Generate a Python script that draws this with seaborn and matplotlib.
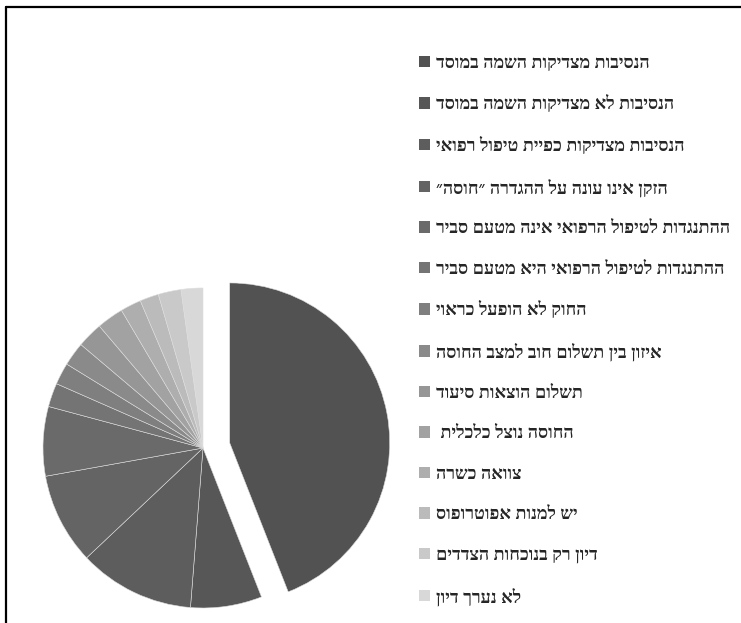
import matplotlib
matplotlib.use("Agg")
import matplotlib.pyplot as plt
from matplotlib.lines import Line2D
import seaborn as sns

# ---------------- Data ----------------
labels = [
    "הנסיבות מצדיקות השמה במוסד",
    "הנסיבות לא מצדיקות השמה במוסד",
    "הנסיבות מצדיקות כפיית טיפול רפואי",
    "הזקן אינו עונה על ההגדרה ״חוסה״",
    "ההתנגדות לטיפול הרפואי אינה מטעם סביר",
    "ההתנגדות לטיפול הרפואי היא מטעם סביר",
    "החוק לא הופעל כראוי",
    "איזון בין תשלום חוב למצב החוסה",
    "תשלום הוצאות סיעוד",
    "החוסה נוצל כלכלית ",
    "צוואה כשרה",
    "יש למנות אפוטרופוס",
    "דיון רק בנוכחות הצדדים",
    "לא נערך דיון",
]

values = [44.0, 7.2, 11.7, 9.2, 7.0, 2.4, 2.2, 2.4, 2.6, 2.7, 2.1, 1.9, 2.3, 2.2]

grays = ["#525252", "#575757", "#5d5d5d", "#646464", "#6a6a6a", "#747474",
         "#7f7f7f", "#8a8a8a", "#969696", "#a2a2a2", "#aeaeae", "#bbbbbb",
         "#c9c9c9", "#d8d8d8"]

explode = [0.17] + [0] * (len(values) - 1)

# ---------------- Setup ----------------
sns.set_style("white")
plt.rcParams["font.family"] = ["Liberation Serif", "DejaVu Sans"]

W, H = 741, 623
fig = plt.figure(figsize=(W / 100, H / 100), dpi=100)

# pie axes: centre (203, 448) px, radius 160 px
cx, cy, r = 203, 448, 160
ax = fig.add_axes([(cx - r) / W, (H - cy - r) / H, 2 * r / W, 2 * r / H])

wedges, _ = ax.pie(
    values,
    colors=sns.color_palette(grays),
    explode=explode,
    startangle=90,
    counterclock=False,
    radius=1,
    wedgeprops={"edgecolor": "#dddddd", "linewidth": 0.4, "clip_on": False},
)
ax.set_xlim(-1, 1)
ax.set_ylim(-1, 1)
ax.set_aspect("equal")
ax.axis("off")

# matplotlib has no bidi, so show the Hebrew in visual order
shown = [s[::-1] for s in labels]

fs = 13.0
leg = ax.legend(
    wedges,
    shown,
    loc="upper left",
    bbox_to_anchor=(419 / W, 1 - 55 / H),
    bbox_transform=fig.transFigure,
    frameon=False,
    prop={"size": fs, "weight": "bold"},
    handlelength=0.6,
    handleheight=0.6,
    handletextpad=0.33,
    labelspacing=1.30,
    borderpad=0,
    borderaxespad=0,
)
for h in leg.legend_handles:
    h.set_edgecolor("none")

# outer frame (top and left visible)
fig.add_artist(Line2D([6 / W, 1], [1 - 7 / H, 1 - 7 / H], color="black", lw=1.6,
                      transform=fig.transFigure))
fig.add_artist(Line2D([6 / W, 6 / W], [0, 1 - 7 / H], color="black", lw=1.6,
                      transform=fig.transFigure))

fig.savefig("out.png", dpi=100)
plt.close(fig)
